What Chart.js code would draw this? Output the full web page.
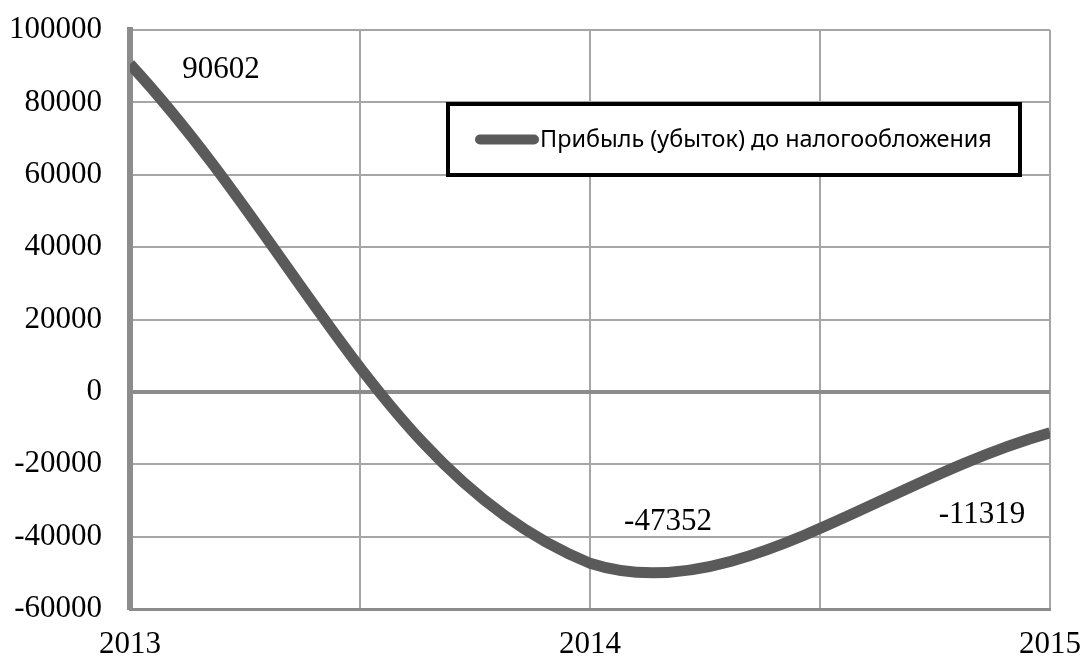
<!DOCTYPE html>
<html>
<head>
<meta charset="utf-8">
<script src="https://cdn.jsdelivr.net/npm/chart.js@4/dist/chart.umd.min.js"></script>
<style>
  html, body { margin: 0; padding: 0; background: #ffffff; }
  canvas { display: block; }
</style>
</head>
<body>
<canvas id="chart" width="1081" height="661"></canvas>
<script>
// Прибыль (убыток) до налогообложения по годам
const years = [2013, 2014, 2015];
const profit = [90602, -47352, -11319];
const seriesName = 'Прибыль (убыток) до налогообложения';
const yTicks = [-60000, -40000, -20000, 0, 20000, 40000, 60000, 80000, 100000];
const xTickLabels = ['2013', '2014', '2015'];

const serif = '"Liberation Serif", "Times New Roman", serif';
const sans = '"Noto Sans", "Open Sans", sans-serif';
const lineColor = '#5a5a5a';

// Value labels next to each point
const valueLabels = {
  id: 'valueLabels',
  afterDatasetsDraw(chart, args, opts) {
    const meta = chart.getDatasetMeta(0);
    const ctx = chart.ctx;
    ctx.save();
    ctx.font = '31px ' + serif;
    ctx.fillStyle = '#000';
    ctx.textAlign = 'center';
    ctx.textBaseline = 'middle';
    meta.data.forEach((pt, i) => {
      const off = opts.offsets[i];
      ctx.fillText(String(profit[i]), pt.x + off[0], pt.y + off[1]);
    });
    ctx.restore();
  }
};

// Framed legend inside the plot
const boxedLegend = {
  id: 'boxedLegend',
  afterDraw(chart, args, opts) {
    const ctx = chart.ctx;
    const b = opts.box;
    ctx.save();
    ctx.fillStyle = '#fff';
    ctx.fillRect(b.x, b.y, b.w, b.h);
    ctx.lineWidth = 4;
    ctx.strokeStyle = '#000';
    ctx.strokeRect(b.x, b.y, b.w, b.h);
    const cy = b.y + b.h / 2;
    ctx.lineCap = 'round';
    ctx.lineWidth = 10;
    ctx.strokeStyle = lineColor;
    ctx.beginPath();
    ctx.moveTo(b.x + 32, cy);
    ctx.lineTo(b.x + 86, cy);
    ctx.stroke();
    ctx.fillStyle = '#000';
    ctx.textAlign = 'left';
    ctx.textBaseline = 'middle';
    let size = 22;
    ctx.font = size + 'px ' + sans;
    const w = ctx.measureText(seriesName).width;
    size = size * opts.textWidth / w;
    ctx.font = size.toFixed(2) + 'px ' + sans;
    ctx.fillText(seriesName, b.x + 92, cy + 1);
    ctx.restore();
  }
};

new Chart(document.getElementById('chart'), {
  type: 'line',
  data: {
    datasets: [{
      label: seriesName,
      data: years.map((y, i) => ({ x: y, y: profit[i] })),
      borderColor: lineColor,
      backgroundColor: lineColor,
      borderWidth: 11,
      pointRadius: 0,
      tension: 0.37,
      fill: false
    }]
  },
  options: {
    responsive: false,
    animation: false,
    layout: { padding: { top: 30, right: 31, left: 0, bottom: 0 } },
    plugins: {
      legend: { display: false },
      tooltip: { enabled: false },
      valueLabels: { offsets: [[91, 6], [78, -41], [-68, 82]] },
      boxedLegend: { box: { x: 448, y: 104, w: 572, h: 71 }, textWidth: 452 }
    },
    scales: {
      x: {
        type: 'linear',
        min: years[0],
        max: years[years.length - 1],
        afterFit(scale) {
          scale.height = 52;
          scale.paddingLeft = 0;
          scale.paddingRight = 0;
        },
        ticks: {
          stepSize: 0.5,
          autoSkip: false,
          maxRotation: 0,
          padding: 17,
          color: '#000',
          font: { family: serif, size: 31 },
          callback(v) {
            const idx = years.indexOf(v);
            return idx >= 0 ? xTickLabels[idx] : '';
          }
        },
        grid: { color: '#a6a6a6', lineWidth: 2, drawTicks: false },
        border: { color: '#8c8c8c', width: 3 }
      },
      y: {
        min: yTicks[0],
        max: yTicks[yTicks.length - 1],
        afterFit(scale) {
          scale.width = 130;
          scale.paddingTop = 0;
          scale.paddingBottom = 0;
        },
        afterBuildTicks(scale) { scale.ticks = yTicks.map(v => ({ value: v })); },
        ticks: {
          padding: 28,
          color: '#000',
          font: { family: serif, size: 31 },
          callback(v) { return String(v); }
        },
        grid: {
          drawTicks: false,
          color: c => (c.tick && c.tick.value === 0 ? '#8c8c8c' : '#a6a6a6'),
          lineWidth: c => (c.tick && c.tick.value === 0 ? 4 : 2)
        },
        border: { color: '#8c8c8c', width: 6 }
      }
    }
  },
  plugins: [valueLabels, boxedLegend]
});
</script>
</body>
</html>
